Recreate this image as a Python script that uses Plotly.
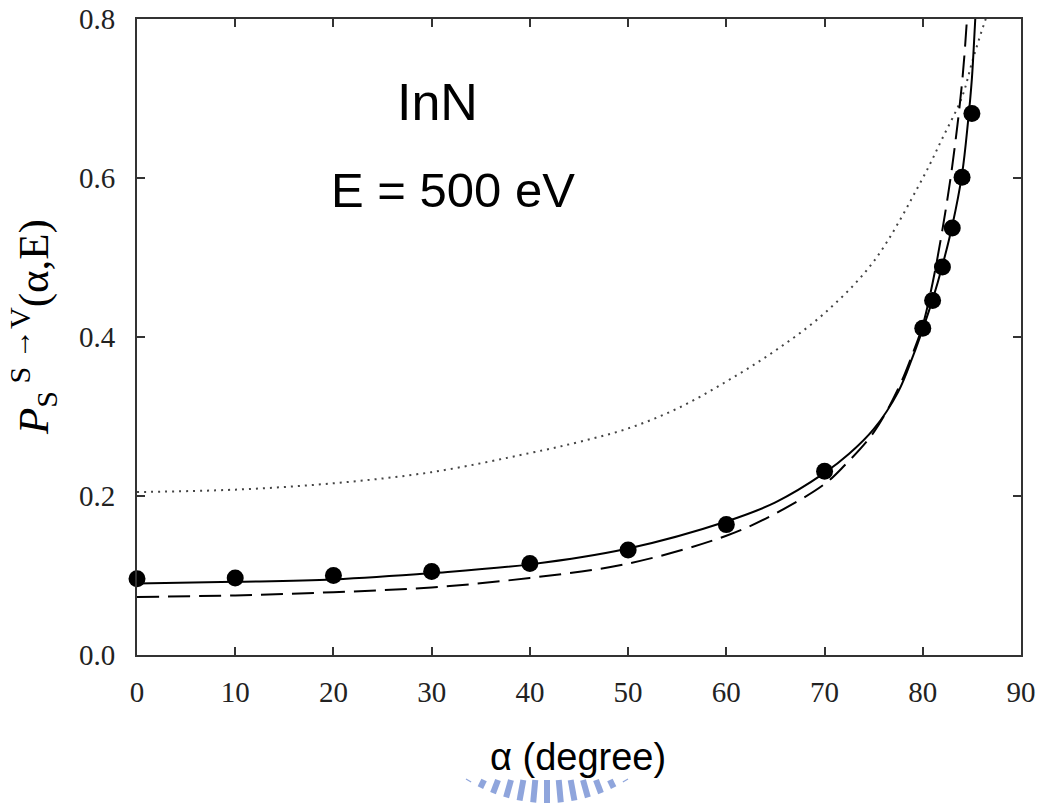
import math
import plotly.graph_objects as go

# ---- data ----
alpha_meas = [0, 10, 20, 30, 40, 50, 60, 70, 80, 81, 82, 83, 84, 85]
p_meas = [0.096, 0.097, 0.100, 0.105, 0.115, 0.132, 0.164, 0.231, 0.411, 0.446, 0.488, 0.537, 0.601, 0.681]

alpha_solid = [0, 10, 20, 30, 40, 50, 60, 65, 70, 72.5, 75, 77.5, 79, 80, 81, 82, 83, 84, 84.6, 85, 85.3, 85.6]
p_solid = [0.090, 0.092, 0.095, 0.103, 0.114, 0.134, 0.168, 0.192, 0.229, 0.253, 0.284, 0.331, 0.376, 0.410,
           0.447, 0.490, 0.540, 0.605, 0.670, 0.725, 0.790, 0.860]

alpha_dash = [0, 10, 20, 30, 40, 50, 60, 65, 70, 72, 75, 77.5, 79, 80, 81, 82, 83, 84, 84.5, 84.8]
p_dash = [0.073, 0.075, 0.079, 0.085, 0.097, 0.115, 0.150, 0.178, 0.215, 0.238, 0.280, 0.335, 0.380, 0.415,
          0.468, 0.535, 0.615, 0.720, 0.800, 0.860]

alpha_dot = [0, 10, 20, 30, 40, 45, 50, 55, 60, 65, 70, 75, 80, 82, 84, 85, 86, 86.4, 86.6]
p_dot = [0.205, 0.208, 0.216, 0.230, 0.254, 0.268, 0.285, 0.310, 0.344, 0.383, 0.430, 0.495, 0.600, 0.650,
         0.702, 0.745, 0.785, 0.800, 0.810]

x_ticks = [0, 10, 20, 30, 40, 50, 60, 70, 80, 90]
y_ticks = [0.0, 0.2, 0.4, 0.6, 0.8]

W, H = 1041, 807
L, R, T, B = 137, 20, 19, 152

fig = go.Figure()
fig.add_trace(go.Scatter(x=alpha_dot, y=p_dot, mode="lines", line_shape="spline",
                         line=dict(color="#444444", width=2, dash="2px,5px", smoothing=1.0), showlegend=False))
fig.add_trace(go.Scatter(x=alpha_dash, y=p_dash, mode="lines", line_shape="spline",
                         line=dict(color="black", width=2, dash="22px,9px"), showlegend=False))
fig.add_trace(go.Scatter(x=alpha_solid, y=p_solid, mode="lines", line_shape="spline",
                         line=dict(color="black", width=2), showlegend=False))
fig.add_trace(go.Scatter(x=alpha_meas, y=p_meas, mode="markers", cliponaxis=False,
                         marker=dict(color="black", size=17), showlegend=False))

axis_common = dict(showline=True, linewidth=2, linecolor="#333333", mirror="ticks",
                   ticks="inside", ticklen=8, tickwidth=2, tickcolor="#333333",
                   showgrid=False, zeroline=False, automargin=False,
                   tickfont=dict(family="Liberation Serif", size=29, color="#222222", weight="normal"))

fig.update_xaxes(range=[0, 90], tickvals=x_ticks, ticktext=[str(v) for v in x_ticks],
                 ticklabelstandoff=10, **axis_common)
fig.update_yaxes(range=[0, 0.8], tickvals=y_ticks, ticktext=[f"{v:.1f}" for v in y_ticks],
                 ticklabelstandoff=14, **axis_common)


def px(xp):
    return (xp - L) / (W - L - R)


def py(yp):
    return (H - B - yp) / (H - T - B)


def note(text, xp, yp, size, family, angle=0):
    return dict(text=text, x=px(xp), y=py(yp), xref="paper", yref="paper", showarrow=False,
                xanchor="center", yanchor="middle", textangle=angle,
                font=dict(family=family, size=size, color="black"))


annotations = [
    note("InN", 437, 102, 52, "Liberation Sans"),
    note("E = 500 eV", 453, 190, 49, "Liberation Sans"),
    note("α (degree)", 578, 757, 38, "Liberation Sans"),
    note("<i>P</i><sub>S</sub><sup> S →V</sup>(α,E)", 33, 327, 43, "Liberation Serif", -90),
]

# decorative watermark fragment under the x-axis title
shapes = []
cx, cy = 547, 651
for k in range(-6, 7):
    ang = math.radians(k * 5.2)
    r0, r1 = 128, 152
    x0, y0 = cx + r0 * math.sin(ang), cy + r0 * math.cos(ang)
    x1, y1 = cx + r1 * math.sin(ang), cy + r1 * math.cos(ang)
    if y0 < 780:
        t = (780 - y0) / (y1 - y0)
        x0, y0 = x0 + t * (x1 - x0), 780
    if y1 <= y0:
        continue
    shapes.append(dict(type="line", xref="paper", yref="paper", x0=px(x0), y0=py(y0), x1=px(x1), y1=py(y1),
                       line=dict(color="#8fa5dc", width=6), layer="below"))

fig.update_layout(width=W, height=H, margin=dict(l=L, r=R, t=T, b=B),
                  plot_bgcolor="white", paper_bgcolor="white",
                  annotations=annotations, shapes=shapes)

fig.write_html("out.html")
